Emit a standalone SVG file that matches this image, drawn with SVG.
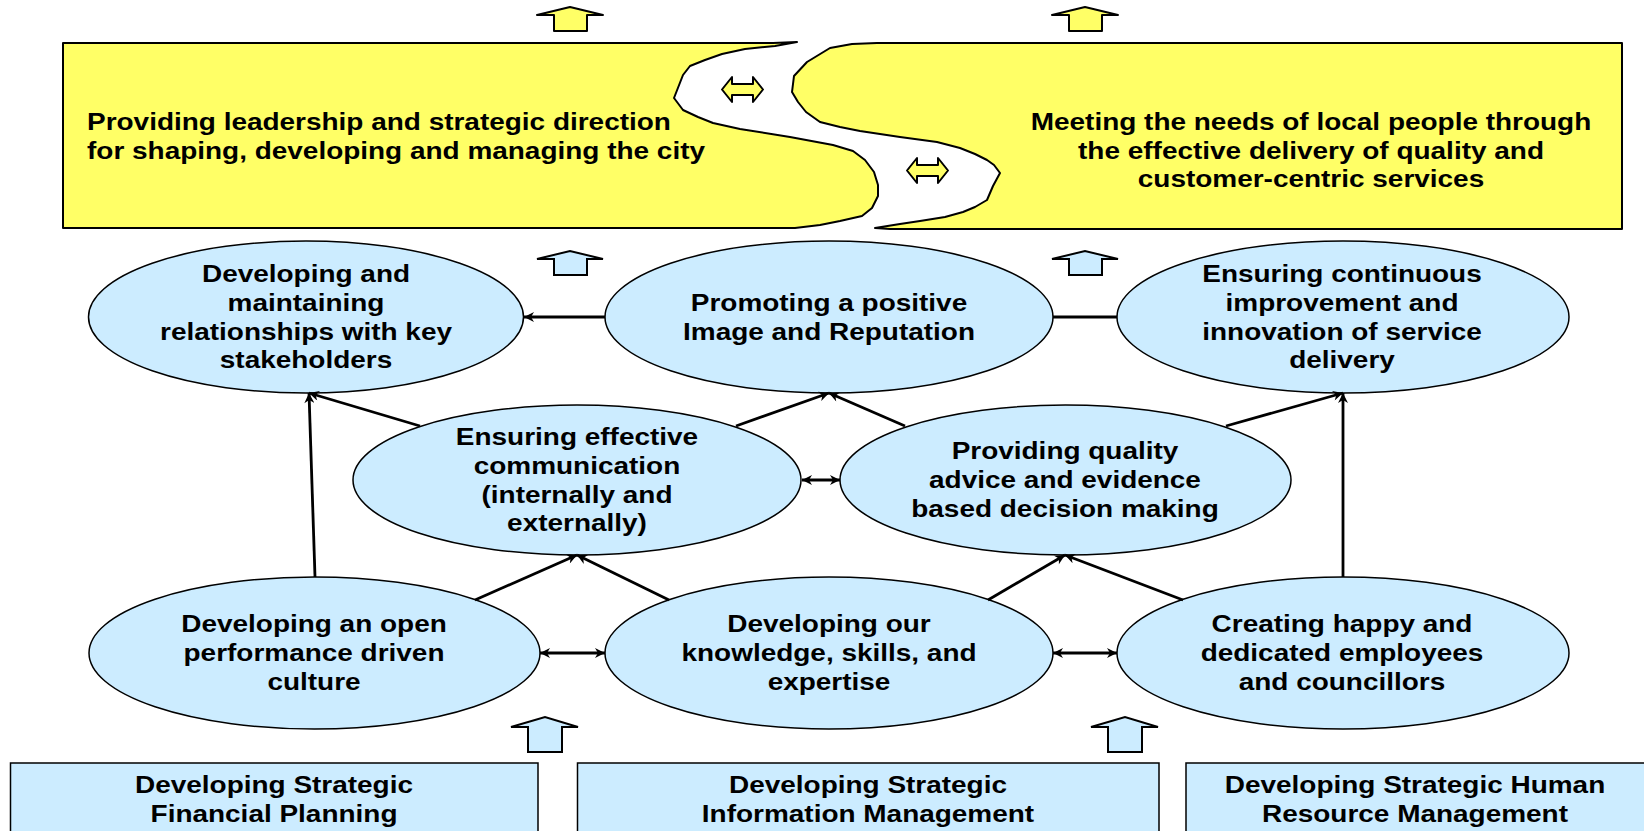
<svg xmlns="http://www.w3.org/2000/svg" width="1644" height="831" viewBox="0 0 1644 831">
<style>
.yel{fill:#FFFF66;stroke:#000;stroke-width:2;stroke-linejoin:round}
.blu{fill:#CCECFF;stroke:#000;stroke-width:1.5}
.box{fill:#CCECFF;stroke:#000;stroke-width:1.5}
.con{stroke:#000;stroke-width:2.8;fill:none}
.arr{stroke:#000;stroke-width:2;stroke-linejoin:miter}
.t{font-family:"Liberation Sans",Arial,sans-serif;font-weight:bold;font-size:23.5px;fill:#000;text-anchor:middle}
.tl{text-anchor:start}
</style>
<defs>
<marker id="ah" viewBox="0 0 10 10" refX="10" refY="5" markerWidth="11" markerHeight="10" markerUnits="userSpaceOnUse" orient="auto-start-reverse">
<path d="M0,0 L10,5 L0,10 L3,5 z" fill="#000"/>
</marker>
<polygon id="upS" points="-16,24 -16,8 -33,8 0,0 33,8 17,8 17,24"/>
<polygon id="upL" points="-17,35 -17,10 -34,10 0,0 33,10 17,10 17,35"/>
<polygon id="dbl" points="-20.5,0 -10.5,-12.5 -10.5,-5.5 10.5,-5.5 10.5,-12.5 20.5,0 10.5,12.5 10.5,5.5 -10.5,5.5 -10.5,12.5"/>
</defs>

<g id="top-arrows">
<use href="#upS" x="570" y="7" class="yel"/>
<use href="#upS" x="1085" y="7" class="yel"/>
</g>

<g id="leadership">
<path class="yel" d="M63,43 L773,43 L797,42 L775,46 L745,49 L722,54 L705,60 L690,66 L683,75 L674,98 L683,110 L698,117 L713,123 L740,129 L790,137 L833,145 L853,151 L865,160 L874,172 L878,185 L878,196 L872,208 L862,216 L840,221 L820,225 L795,228 L63,228 Z"/>
<text class="t tl" transform="translate(87,0) scale(1.19,1)"><tspan x="0" y="130.5">Providing leadership and strategic direction</tspan><tspan x="0" y="159">for shaping, developing and managing the city</tspan></text>
</g>

<g id="service">
<path class="yel" d="M877,43 L1622,43 L1622,229 L890,229 L875,228 L900,224 L920,221 L945,217 L963,212 L975,207 L987,200 L993,186 L1000,173 L994,165 L987,160 L975,154 L960,148 L937,142 L900,137 L860,131 L840,127 L820,122 L806,112 L798,102 L792,92 L794,76 L807,62 L830,48 L852,44 Z"/>
<text class="t" transform="translate(1311,0) scale(1.19,1)"><tspan x="0" y="130.5">Meeting the needs of local people through</tspan><tspan x="0" y="159">the effective delivery of quality and</tspan><tspan x="0" y="187.5">customer-centric services</tspan></text>
</g>

<g id="river-arrows">
<use href="#dbl" x="742.5" y="89.5" class="yel"/>
<use href="#dbl" x="927.5" y="170.5" class="yel"/>
</g>

<g id="mid-arrows">
<use href="#upS" x="570" y="251" class="blu" style="stroke-width:2"/>
<use href="#upS" x="1085" y="251" class="blu" style="stroke-width:2"/>
</g>

<g id="n-stakeholders">
<ellipse class="blu" cx="306" cy="317" rx="217.5" ry="76"/>
<text class="t" transform="translate(306,0) scale(1.19,1)"><tspan x="0" y="282">Developing and</tspan><tspan x="0" y="310.8">maintaining</tspan><tspan x="0" y="339.6">relationships with key</tspan><tspan x="0" y="368.4">stakeholders</tspan></text>
</g>
<g id="n-image">
<ellipse class="blu" cx="829" cy="317" rx="224" ry="76"/>
<text class="t" transform="translate(829,0) scale(1.19,1)"><tspan x="0" y="310.8">Promoting a positive</tspan><tspan x="0" y="339.6">Image and Reputation</tspan></text>
</g>
<g id="n-improvement">
<ellipse class="blu" cx="1343" cy="317" rx="226" ry="76"/>
<text class="t" transform="translate(1342,0) scale(1.19,1)"><tspan x="0" y="282">Ensuring continuous</tspan><tspan x="0" y="310.8">improvement and</tspan><tspan x="0" y="339.6">innovation of service</tspan><tspan x="0" y="368.4">delivery</tspan></text>
</g>
<g id="n-communication">
<ellipse class="blu" cx="577" cy="480" rx="224" ry="75"/>
<text class="t" transform="translate(577,0) scale(1.19,1)"><tspan x="0" y="445">Ensuring effective</tspan><tspan x="0" y="473.8">communication</tspan><tspan x="0" y="502.6">(internally and</tspan><tspan x="0" y="531.4">externally)</tspan></text>
</g>
<g id="n-advice">
<ellipse class="blu" cx="1065.5" cy="480" rx="225.5" ry="75"/>
<text class="t" transform="translate(1065,0) scale(1.19,1)"><tspan x="0" y="459.4">Providing quality</tspan><tspan x="0" y="488.2">advice and evidence</tspan><tspan x="0" y="517">based decision making</tspan></text>
</g>
<g id="n-culture">
<ellipse class="blu" cx="314.5" cy="653" rx="225.5" ry="76"/>
<text class="t" transform="translate(314,0) scale(1.19,1)"><tspan x="0" y="632.4">Developing an open</tspan><tspan x="0" y="661.2">performance driven</tspan><tspan x="0" y="690">culture</tspan></text>
</g>
<g id="n-knowledge">
<ellipse class="blu" cx="829" cy="653" rx="224" ry="76"/>
<text class="t" transform="translate(829,0) scale(1.19,1)"><tspan x="0" y="632.4">Developing our</tspan><tspan x="0" y="661.2">knowledge, skills, and</tspan><tspan x="0" y="690">expertise</tspan></text>
</g>
<g id="n-employees">
<ellipse class="blu" cx="1343" cy="653" rx="226" ry="76"/>
<text class="t" transform="translate(1342,0) scale(1.19,1)"><tspan x="0" y="632.4">Creating happy and</tspan><tspan x="0" y="661.2">dedicated employees</tspan><tspan x="0" y="690">and councillors</tspan></text>
</g>

<g id="connectors">
<line class="con" x1="605" y1="317" x2="524" y2="317" marker-end="url(#ah)"/>
<line class="con" x1="1053" y1="317" x2="1117" y2="317"/>
<line class="con" x1="420" y1="426" x2="309" y2="393" marker-end="url(#ah)"/>
<line class="con" x1="315" y1="577" x2="309" y2="393" marker-end="url(#ah)"/>
<line class="con" x1="736" y1="426" x2="829" y2="393" marker-end="url(#ah)"/>
<line class="con" x1="905" y1="426" x2="829" y2="393" marker-end="url(#ah)"/>
<line class="con" x1="1226" y1="426" x2="1343" y2="393" marker-end="url(#ah)"/>
<line class="con" x1="1343" y1="577" x2="1343" y2="393" marker-end="url(#ah)"/>
<line class="con" x1="802" y1="480" x2="840" y2="480" marker-start="url(#ah)" marker-end="url(#ah)"/>
<line class="con" x1="475" y1="600" x2="577" y2="555" marker-end="url(#ah)"/>
<line class="con" x1="669" y1="600" x2="577" y2="555" marker-end="url(#ah)"/>
<line class="con" x1="988" y1="600" x2="1065" y2="555" marker-end="url(#ah)"/>
<line class="con" x1="1183" y1="600" x2="1065" y2="555" marker-end="url(#ah)"/>
<line class="con" x1="540" y1="653" x2="605" y2="653" marker-start="url(#ah)" marker-end="url(#ah)"/>
<line class="con" x1="1053" y1="653" x2="1117" y2="653" marker-start="url(#ah)" marker-end="url(#ah)"/>
</g>

<g id="bottom-arrows">
<use href="#upL" x="545" y="717" class="blu" style="stroke-width:2"/>
<use href="#upL" x="1125" y="717" class="blu" style="stroke-width:2"/>
</g>

<g id="b-financial">
<rect class="box" x="10.5" y="763" width="527.5" height="90"/>
<text class="t" transform="translate(274,0) scale(1.19,1)"><tspan x="0" y="793">Developing Strategic</tspan><tspan x="0" y="822">Financial Planning</tspan></text>
</g>
<g id="b-information">
<rect class="box" x="577.5" y="763" width="581.5" height="90"/>
<text class="t" transform="translate(868,0) scale(1.19,1)"><tspan x="0" y="793">Developing Strategic</tspan><tspan x="0" y="822">Information Management</tspan></text>
</g>
<g id="b-hr">
<rect class="box" x="1186" y="763" width="480" height="90"/>
<text class="t" transform="translate(1415,0) scale(1.19,1)"><tspan x="0" y="793">Developing Strategic Human</tspan><tspan x="0" y="822">Resource Management</tspan></text>
</g>
</svg>
